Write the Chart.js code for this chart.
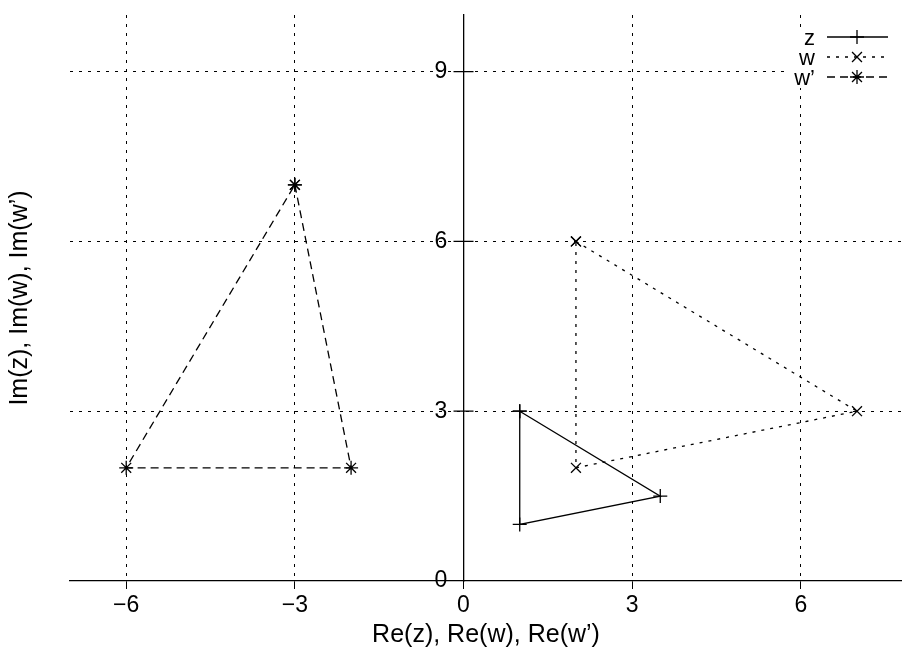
<!DOCTYPE html>
<html>
<head>
<meta charset="utf-8">
<script src="https://cdn.jsdelivr.net/npm/chart.js@4/dist/chart.umd.min.js"></script>
<style>
  html, body { margin: 0; padding: 0; background: #fff; }
  #wrap { width: 902px; height: 650px; }
</style>
</head>
<body>
<div id="wrap"><canvas id="plot"></canvas></div>
<script>
"use strict";

// triangle vertices (closed by repeating the first point)
var zX = [1, 3.5, 1, 1];
var zY = [3, 1.5, 1, 3];
var wX = [2, 7, 2, 2];
var wY = [6, 3, 2, 6];
var wpX = [-3, -2, -6, -3];
var wpY = [7, 2, 2, 7];

var seriesNames = ["z", "w", "w\u2019"];
var xTicks = [-6, -3, 0, 3, 6];
var yTicks = [0, 3, 6, 9];
var xTitle = "Re(z), Re(w), Re(w\u2019)";
var yTitle = "Im(z), Im(w), Im(w\u2019)";

var FONT = "'Liberation Sans', Arial, sans-serif";

function toPoints(xs, ys) {
    var pts = [];
    for (var i = 0; i < xs.length; i++) pts.push({x: xs[i], y: ys[i]});
    return pts;
}

function minusSign(v) {
    return String(v).replace("-", "\u2212");
}

// legend drawn gnuplot style: text right-aligned, sample line to the right
var rightLegend = {
    id: "rightLegend",
    afterDatasetsDraw: function(chart) {
        var ctx = chart.ctx;
        var sets = chart.data.datasets;
        ctx.save();
        // opaque key box, the grid stops at it
        ctx.fillStyle = "#fff";
        ctx.fillRect(789, 27, 113, 61);
        ctx.font = "22px " + FONT;
        ctx.textAlign = "right";
        ctx.textBaseline = "middle";
        for (var i = 0; i < sets.length; i++) {
            var ds = sets[i];
            var y = 37 + i * 20;
            ctx.fillStyle = "#000";
            ctx.fillText(ds.label, 815, y + 2);
            ctx.strokeStyle = ds.borderColor;
            ctx.lineWidth = ds.borderWidth;
            ctx.setLineDash(ds.borderDash || []);
            ctx.beginPath();
            ctx.moveTo(827, y);
            ctx.lineTo(888, y);
            ctx.stroke();
            ctx.setLineDash([]);
            Chart.helpers.drawPoint(ctx, {
                pointStyle: ds.pointStyle,
                radius: ds.pointRadius,
                borderWidth: ds.pointBorderWidth,
                rotation: 0
            }, 857, y);
        }
        ctx.restore();
    }
};

// gnuplot puts a small tick across the zero axis for every y label
var yAxisTicks = {
    id: "yAxisTicks",
    afterDraw: function(chart) {
        var ctx = chart.ctx;
        var xs = chart.scales.x;
        var ys = chart.scales.y;
        var x0 = xs.getPixelForValue(0);
        ctx.save();
        ctx.strokeStyle = "#000";
        ctx.lineWidth = 1.3;
        ctx.beginPath();
        yTicks.forEach(function(v) {
            if (v === 0) return;
            var py = ys.getPixelForValue(v);
            ctx.moveTo(x0 - 10, py);
            ctx.lineTo(x0 + 10, py);
        });
        ctx.stroke();
        ctx.restore();
    }
};

function makeSet(label, xs, ys, style, dash) {
    return {
        label: label,
        data: toPoints(xs, ys),
        showLine: true,
        fill: false,
        tension: 0,
        borderColor: "#000",
        backgroundColor: "#000",
        borderWidth: 1.3,
        borderDash: dash,
        pointStyle: style,
        pointRadius: 7,
        pointBorderWidth: 1.3,
        pointBorderColor: "#000",
        pointHoverRadius: 7
    };
}

new Chart(document.getElementById("plot"), {
    type: "scatter",
    data: {
        datasets: [
            makeSet(seriesNames[0], zX, zY, "cross", []),
            makeSet(seriesNames[1], wX, wY, "crossRot", [3, 6]),
            makeSet(seriesNames[2], wpX, wpY, "star", [8, 5])
        ]
    },
    options: {
        responsive: true,
        maintainAspectRatio: false,
        animation: false,
        layout: {
            autoPadding: false,
            padding: {top: 15, right: 0, bottom: 0, left: 0}
        },
        scales: {
            x: {
                type: "linear",
                position: "bottom",
                min: -7,
                max: 7.8,
                afterBuildTicks: function(scale) {
                    scale.ticks = xTicks.map(function(v) { return {value: v}; });
                },
                afterFit: function(scale) {
                    scale.paddingLeft = 0;
                    scale.paddingRight = 0;
                    scale.height = 69;
                },
                ticks: {
                    color: "#000",
                    font: {family: FONT, size: 23},
                    padding: 3,
                    maxRotation: 0,
                    callback: function(v) { return minusSign(v); }
                },
                grid: {
                    color: function(c) { return c.tick && c.tick.value === 0 ? "rgba(0,0,0,0)" : "#000"; },
                    lineWidth: 1,
                    drawTicks: true,
                    tickLength: 8,
                    tickColor: "#000"
                },
                border: {display: true, color: "#000", width: 1.3, dash: [3, 6]},
                title: {
                    display: true,
                    text: xTitle,
                    color: "#000",
                    font: {family: FONT, size: 25},
                    padding: {top: 0, bottom: 0}
                }
            },
            y: {
                type: "linear",
                position: {x: 0},
                min: 0,
                max: 10,
                afterBuildTicks: function(scale) {
                    scale.ticks = yTicks.map(function(v) { return {value: v}; });
                },
                afterFit: function(scale) {
                    scale.paddingTop = 0;
                    scale.paddingBottom = 0;
                },
                ticks: {
                    color: "#000",
                    font: {family: FONT, size: 23},
                    padding: 2,
                    // label sits right at the axis, the trailing gap moves it left of the tick
                    callback: function(v) { return v + "\u2002\u2009"; }
                },
                grid: {
                    color: function(c) { return c.tick && c.tick.value === 0 ? "rgba(0,0,0,0)" : "#000"; },
                    lineWidth: 1,
                    drawTicks: false
                },
                border: {display: true, color: "#000", width: 1.3, dash: [3, 6]}
            },
            yTitleAxis: {
                type: "linear",
                axis: "y",
                position: "left",
                min: 0,
                max: 10,
                ticks: {display: false},
                grid: {display: false, drawTicks: false},
                border: {display: false},
                afterFit: function(scale) {
                    scale.paddingTop = 0;
                    scale.paddingBottom = 0;
                },
                title: {
                    display: true,
                    text: yTitle,
                    color: "#000",
                    font: {family: FONT, size: 25},
                    padding: {top: 5, bottom: 35}
                }
            }
        },
        plugins: {
            legend: {display: false},
            tooltip: {enabled: false}
        }
    },
    plugins: [rightLegend, yAxisTicks]
});
</script>
</body>
</html>
